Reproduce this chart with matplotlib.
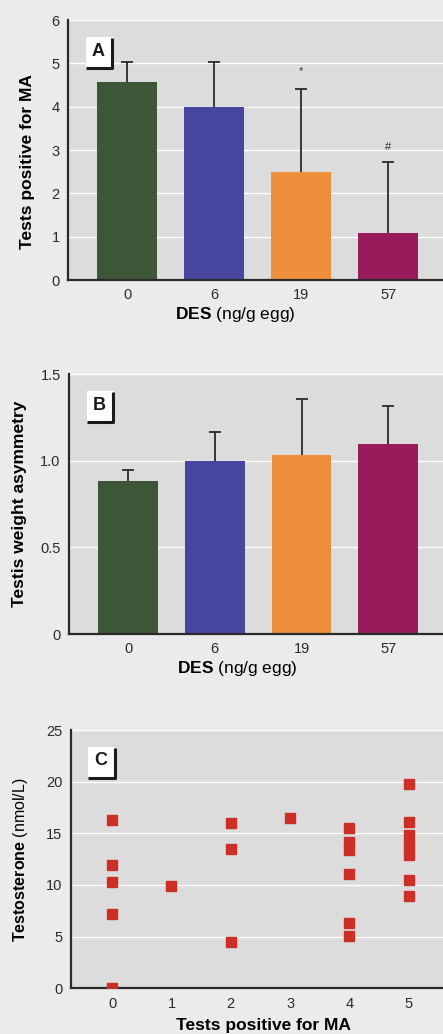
import numpy as np
import matplotlib
matplotlib.use("Agg")
import matplotlib.pyplot as plt
from matplotlib.patches import Rectangle

plt.rcParams['font.family'] = ['Liberation Sans', 'DejaVu Sans']
plt.rcParams['mathtext.fontset'] = 'custom'
plt.rcParams['mathtext.bf'] = 'Liberation Sans:bold'
plt.rcParams['mathtext.rm'] = 'Liberation Sans'

# data
doses = ['0', '6', '19', '57']
bar_colors = ['#3d5637', '#46469e', '#ef8f3c', '#981c5c']

ma_mean = [4.58, 4.0, 2.49, 1.08]
ma_err = [0.46, 1.03, 1.92, 1.64]
ma_marks = ['', '', '*', '#']
ma_mark_y = [0, 0, 4.83, 3.08]

asym_mean = [0.883, 0.998, 1.033, 1.098]
asym_err = [0.063, 0.169, 0.321, 0.219]

ma_count = [0, 0, 0, 0, 0, 1, 2, 2, 2, 3, 4, 4, 4, 4, 4, 4,
            5, 5, 5, 5, 5, 5, 5]
testosterone = [16.3, 11.9, 10.3, 7.2, 0.0, 9.9, 16.0, 13.5, 4.5, 16.5,
                15.5, 14.2, 13.4, 11.1, 6.35, 5.1,
                19.8, 16.1, 14.8, 13.9, 12.9, 10.5, 8.9]

W, H = 443, 1034
fig = plt.figure(figsize=(W / 100, H / 100), dpi=100)
fig.patch.set_facecolor('#ebebeb')


def make_ax(left, top, bottom):
    ax = fig.add_axes([left / W, 1 - bottom / H, 1 - left / W, (bottom - top) / H])
    ax.set_facecolor('#dcdcdc')
    for s in ['top', 'right']:
        ax.spines[s].set_visible(False)
    for s in ['left', 'bottom']:
        ax.spines[s].set_linewidth(1.6)
        ax.spines[s].set_color('#2a2a2a')
    ax.tick_params(length=0, labelsize=10.5, colors='#2a2a2a', pad=6)
    ax.yaxis.grid(True, color='white', linewidth=1.0)
    ax.set_axisbelow(True)
    return ax


def panel_tag(ax, letter):
    ax.add_patch(Rectangle((0.047, 0.812), 0.073, 0.123, transform=ax.transAxes,
                           facecolor='white', edgecolor='none', zorder=5))
    ax.plot([0.047, 0.118, 0.118], [0.815, 0.815, 0.93], transform=ax.transAxes,
            color='#1a1a1a', linewidth=2.2, zorder=6, solid_capstyle='butt')
    ax.text(0.081, 0.88, letter, transform=ax.transAxes, ha='center', va='center',
            fontsize=13, fontweight='bold', color='#1a1a1a', zorder=7)


def bars_with_err(ax, means, errs):
    ax.bar(x, means, width=0.69, color=bar_colors, zorder=2)
    eb = ax.errorbar(x, means, yerr=[np.zeros(len(errs)), errs], fmt='none',
                     ecolor='#2a2a2a', elinewidth=1.3, capsize=4, capthick=1.3, zorder=3)
    eb[1][0].set_visible(False)  # no cap at bar top


x = np.arange(len(doses))

# panel A
axA = make_ax(68, 20, 280)
bars_with_err(axA, ma_mean, ma_err)
for xi, m, my in zip(x, ma_marks, ma_mark_y):
    if m:
        axA.text(xi, my, m, ha='center', va='center', fontsize=8, color='#333')
axA.set_xlim(-0.68, 3.63)
axA.set_ylim(0, 6)
axA.set_yticks(range(7))
axA.set_xticks(x)
axA.set_xticklabels(doses)
axA.set_ylabel('Tests positive for MA', fontsize=12.5, fontweight='bold')
axA.yaxis.set_label_coords(-0.088, 0.456)
axA.set_xlabel(r'$\mathbf{DES}$ (ng/g egg)', fontsize=12.5)
axA.xaxis.set_label_coords(0.445, -0.097)
panel_tag(axA, 'A')

# panel B
axB = make_ax(69, 374, 634)
bars_with_err(axB, asym_mean, asym_err)
axB.set_xlim(-0.68, 3.63)
axB.set_ylim(0, 1.5)
axB.set_yticks([0, 0.5, 1.0, 1.5])
axB.set_yticklabels(['0', '0.5', '1.0', '1.5'])
axB.set_xticks(x)
axB.set_xticklabels(doses)
axB.set_ylabel('Testis weight asymmetry', fontsize=12.5, fontweight='bold')
axB.yaxis.set_label_coords(-0.112, 0.5)
axB.set_xlabel(r'$\mathbf{DES}$ (ng/g egg)', fontsize=12.5)
axB.xaxis.set_label_coords(0.45, -0.097)
panel_tag(axB, 'B')

# panel C
axC = make_ax(70.7, 730, 988.3)
axC.plot(ma_count, testosterone, linestyle='none', marker='s', markersize=7.2,
         color='#cc2f27', zorder=3, clip_on=True)
axC.set_xlim(-0.70, 5.58)
axC.set_ylim(0, 25)
axC.set_yticks([0, 5, 10, 15, 20, 25])
axC.set_xticks(range(6))
axC.set_ylabel(r'$\mathbf{Testosterone}$ (nmol/L)', fontsize=11.5)
axC.yaxis.set_label_coords(-0.109, 0.497)
axC.set_xlabel('Tests positive for MA', fontsize=12.5, fontweight='bold')
axC.xaxis.set_label_coords(0.517, -0.115)
panel_tag(axC, 'C')

fig.savefig('out.png', dpi=100, facecolor=fig.get_facecolor())
